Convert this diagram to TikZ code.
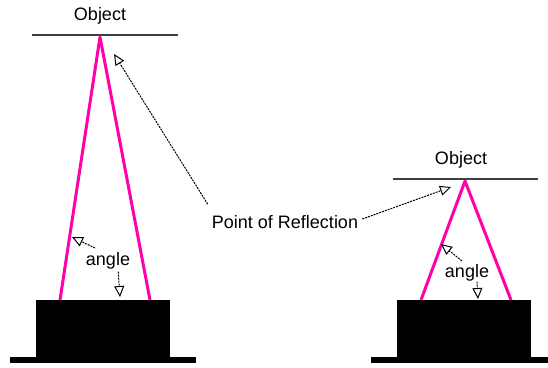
\documentclass[tikz,border=0pt]{standalone}
\usepackage{fontspec}
\setmainfont{Liberation Sans}
\usetikzlibrary{arrows.meta}
\definecolor{reflpink}{RGB}{255,0,170}
\begin{document}
\begin{tikzpicture}[x=1pt,y=-1pt, font=\fontsize{18}{21}\selectfont, line join=round,
	beam/.style={draw=reflpink, line width=3pt},
	mirror/.style={draw=black!75, line width=2pt},
	pointer/.style={dash pattern=on 2pt off 1pt, line width=1pt, -{Triangle[open,length=11pt,width=10pt,sep=0pt]}},
	lbl/.style={inner sep=0pt}]
	\useasboundingbox (0,0) rectangle (548,367);
	% left set: long distance
	\fill (10,357) rectangle (196,363);
	\fill (36,300) rectangle (170,358);
	\draw[mirror] (32,35) -- (178,35);
	\node[lbl] (objL) at (100,16) {Object};
	\coordinate (topL) at (100,37);
	\coordinate (footLa) at (60,300); \coordinate (footLb) at (150,300);
	\draw[beam] (footLa) -- (topL) -- (footLb);
	\node[lbl] (angL) at (108,261) {angle};
	\coordinate (angLa) at (72,237); \coordinate (angLb) at (120,297);
	\coordinate (angLt) at (95,248);
	\draw[pointer] (angLt) -- (angLa);
	\draw[pointer] (angL.south east) ++(-12,2) -- (angLb);
	% right set: short distance
	\fill (371,357) rectangle (548,363);
	\fill (397,300) rectangle (531,358);
	\draw[mirror] (393,179) -- (538,179);
	\node[lbl] (objR) at (461,160) {Object};
	\coordinate (topR) at (465,181);
	\coordinate (footRa) at (421,300); \coordinate (footRb) at (511,300);
	\draw[beam] (footRa) -- (topR) -- (footRb);
	\node[lbl] (angR) at (467,273) {angle};
	\coordinate (angRa) at (441,244); \coordinate (angRb) at (478,299);
	\coordinate (angRt) at (462,261);
	\draw[pointer] (angRt) -- (angRa);
	\draw[pointer] (angR.south) ++(10,0) -- (angRb);
	% label in the middle
	\node[lbl] (refl) at (285,222) {Point of Reflection};
	\coordinate (reflL) at (114,54); \coordinate (reflR) at (451,187);
	\draw[pointer] (refl.north west) ++(-4,-11) -- (reflL);
	\draw[pointer] (refl.east) ++(4,-3) -- (reflR);
\end{tikzpicture}
\end{document}
